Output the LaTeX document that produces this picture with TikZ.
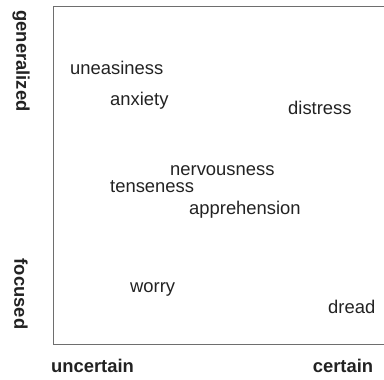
\documentclass[tikz,border=0pt]{standalone}
\usepackage{fontspec}
\setmainfont{Liberation Sans}
\definecolor{txt}{HTML}{222222}
\definecolor{axis}{HTML}{6E6E6E}
\begin{document}
\begin{tikzpicture}[x=1pt,y=1pt,
  word/.style={anchor=base west,inner sep=0pt,text=txt,font=\fontsize{18.4}{22}\selectfont},
  axlabel/.style={inner sep=0pt,text=txt,font=\fontsize{18.4}{22}\selectfont\bfseries},
  axline/.style={draw=axis,line width=1.5pt}]
\useasboundingbox (0,0) rectangle (384,380);
\coordinate (tr) at (384,373.5);
\coordinate (tl) at (53.5,373.5);
\coordinate (bl) at (53.5,35.5);
\coordinate (br) at (384,35.5);
\draw[axline] (tr) -- (tl) -- (bl) -- (br);
\node[axlabel,rotate=-90] (gen) at (21,319) {generalized};
\node[axlabel,rotate=-90] (foc) at (21,86) {focused};
\node[axlabel,anchor=base] (unc) at (92.5,7) {uncertain};
\node[axlabel,anchor=base] (cer) at (343,7) {certain};
\node[word] (w1) at (70,305) {uneasiness};
\node[word] (w2) at (110,274) {anxiety};
\node[word] (w3) at (288,265) {distress};
\node[word] (w4) at (170,204) {nervousness};
\node[word] (w5) at (110,187) {tenseness};
\node[word] (w6) at (189,165) {apprehension};
\node[word] (w7) at (130,87) {worry};
\node[word] (w8) at (328,66) {dread};
\end{tikzpicture}
\end{document}
